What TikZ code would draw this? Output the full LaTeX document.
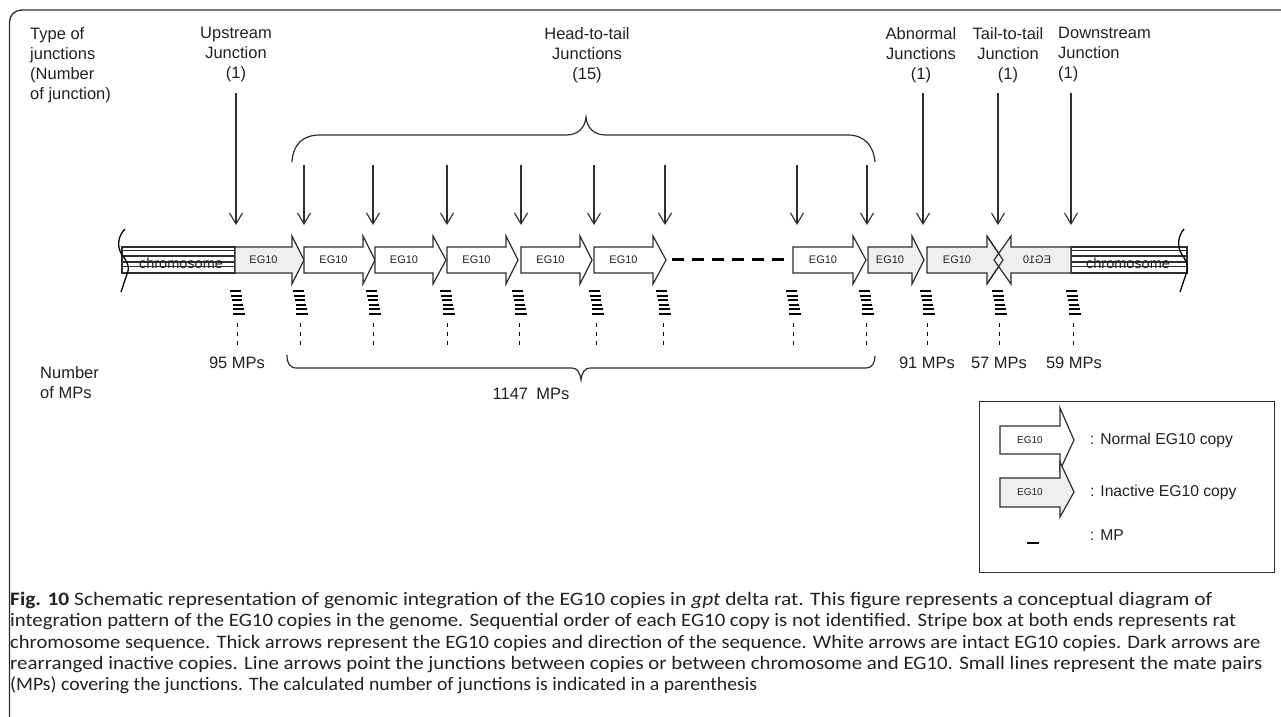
\documentclass[tikz,border=0pt]{standalone}
\usepackage{fontspec}
\usepackage{graphicx}
\setmainfont{Liberation Sans}
\newfontfamily\capfont{Carlito}
\usetikzlibrary{arrows.meta}
\definecolor{edge}{HTML}{2E2E2E}
\definecolor{txt}{HTML}{222222}
\definecolor{egfill}{HTML}{EEF0F0}

\newcommand\egcopy[5]{% name, x0, head base, tip, fill
  \draw[egline, fill=#5] (#2,247) -- (#3,247) -- (#3,236) -- (#4,260) -- (#3,284) -- (#3,273) -- (#2,273) -- cycle;
  \node[egtext] (#1) at ({(#2+#3)/2},260) {EG10};
}
\newcommand\chrom[4]{% name, x0, x1, text x
  \draw[chromline] (#2,247) rectangle (#3,273);
  \foreach \yy in {250.5,256,262,266.5} \draw[chromline] (#2,\yy) -- (#3,\yy);
  \node[chrtext] (#1) at (#4,263) {chromosome};
}
\newcommand\mpstack[2]{% name, x
  \coordinate (#1) at (#2,291);
  \foreach \yy/\a/\b in {291/-7/4, 295.5/-6/5, 300/-5/5, 304.5/-4/6, 309/-4/7, 313.5/-4/8}
    \draw[mpline] ({#2+\a},\yy) -- ({#2+\b},\yy);
  \draw[mpdots] (#2,323) -- (#2,345);
}
\newcommand\capline[3]{% baseline y, width, text
  \node[anchor=base west, inner sep=0pt, text=txt, font=\capfont\fontsize{19}{21}\selectfont] at (10,#1) {\resizebox{#2pt}{\height}{#3}};
}

\begin{document}
\begin{tikzpicture}[x=1pt,y=-1pt,
  lbl/.style={font=\fontsize{16.5}{20}\selectfont, text=txt, inner sep=0pt},
  egline/.style={draw=edge, line width=1.2pt, line join=miter},
  egtext/.style={font=\fontsize{11}{12}\selectfont, text=txt, inner sep=0pt},
  chromline/.style={draw=edge, line width=1.3pt},
  chrtext/.style={font=\fontsize{14.5}{16}\selectfont, text=txt, inner sep=0pt},
  jarrow/.style={draw=edge, line width=1.1pt, -{Straight Barb[length=11pt,width=13pt]}},
  mpline/.style={draw=black, line width=2pt},
  mpdots/.style={draw=black, line width=0.9pt, dash pattern=on 4pt off 5pt},
  brace/.style={draw=edge, line width=1.2pt},
  wavy/.style={draw=black, line width=1.3pt},
]
\useasboundingbox (0,0) rectangle (1281,716);
\clip (0,0) rectangle (1281,716);
\fill[white] (0,0) rectangle (1281,716);

% outer frame
\draw[line width=1.3pt, rounded corners=12pt, draw=edge] (9.5,760) -- (9.5,10) -- (1330,10);

% top labels
\node[lbl, anchor=north west, align=left] (types) at (30,27) {Type of\\junctions\\(Number\\of junction)};
\node[lbl, anchor=north, align=center] (up) at (236,27) {Upstream\\Junction\\(1)};
\node[lbl, anchor=north, align=center] (h2t) at (587,27) {Head-to-tail\\Junctions\\(15)};
\node[lbl, anchor=north, align=center] (abn) at (921,27) {Abnormal\\Junctions\\(1)};
\node[lbl, anchor=north, align=center] (t2t) at (1008,27) {Tail-to-tail\\Junction\\(1)};
\node[lbl, anchor=north west, align=left] (down) at (1058,27) {Downstream\\Junction\\(1)};

% top brace
\draw[brace] (292,162) .. controls (293,145) and (302,135) .. (320,135) -- (566,135)
  .. controls (578,135) and (585,128) .. (586,117)
  .. controls (587,128) and (594,135) .. (606,135) -- (848,135)
  .. controls (865,135) and (874,147) .. (875,162);

% chromosome boxes
\chrom{chrL}{122}{235}{181}
\chrom{chrR}{1071}{1187}{1128}
\draw[wavy] (125,229) .. controls (118,236) and (117,246) .. (121,253)
  .. controls (125,259) and (131,266) .. (127,274) .. controls (125,280) and (123,286) .. (121,292);
\draw[wavy] (1184,229) .. controls (1178,236) and (1177,246) .. (1181,253)
  .. controls (1185,259) and (1190,266) .. (1186,274) .. controls (1184,280) and (1182,286) .. (1180,292);

% EG10 copies
\egcopy{c1}{235}{292}{304}{egfill}
\egcopy{c2}{304}{363}{375}{white}
\egcopy{c3}{375}{433}{446}{white}
\egcopy{c4}{447}{506}{518}{white}
\egcopy{c5}{521}{580}{592}{white}
\egcopy{c6}{594}{653}{666}{white}
\egcopy{c7}{793}{853}{866}{white}
\egcopy{c8}{868}{912}{924}{egfill}
\egcopy{c9}{927}{987}{1003}{egfill}
\draw[egline, fill=egfill] (1071,247) -- (1011,247) -- (1011,236) -- (994,260) -- (1011,284) -- (1011,273) -- (1071,273) -- cycle;
\node[egtext] (c10) at (1037,260) {\scalebox{-1}[1]{EG10}};
\draw[egline] (987,236) -- (1003,260) -- (987,284);

% dashes
\coordinate (dA) at (672,259);
\coordinate (dB) at (784,259);
\draw[black, line width=3pt, dash pattern=on 12pt off 8pt] (dA) -- (dB);

% junction arrows
\foreach \n/\x/\y in {up/236/93, abn/923/93, t2t/998/93, down/1071/93,
  h1/304/165, h2/373/165, h3/447/165, h4/521/165, h5/594/165, h6/665/165, h7/797/165, h8/867/165} {
  \coordinate (s-\n) at (\x,\y);
  \coordinate (e-\n) at (\x,225);
  \draw[jarrow] (s-\n) -- (e-\n);
}

% MP stacks
\mpstack{m1}{237}
\mpstack{m2}{300}
\mpstack{m3}{373}
\mpstack{m4}{447}
\mpstack{m5}{519}
\mpstack{m6}{596}
\mpstack{m7}{663}
\mpstack{m8}{793}
\mpstack{m9}{866}
\mpstack{m10}{927}
\mpstack{m11}{999}
\mpstack{m12}{1073}

% MP labels
\node[lbl, anchor=north west, align=left] (nmp) at (40,366) {Number\\of MPs};
\node[lbl, anchor=base] (mp95) at (237,368) {95 MPs};
\node[lbl, anchor=base] (mp91) at (927,368) {91 MPs};
\node[lbl, anchor=base] (mp57) at (999,368) {57 MPs};
\node[lbl, anchor=base] (mp59) at (1074,368) {59 MPs};
\node[lbl, anchor=base] (mp1147) at (531,399) {1147\enspace MPs};

% bottom brace
\draw[brace] (287,355) .. controls (287,364) and (290,368) .. (297,368) -- (572,368)
  .. controls (577,368) and (580,372) .. (581,380)
  .. controls (582,372) and (585,368) .. (590,368) -- (866,368)
  .. controls (872,368) and (875,363) .. (875,356);

% legend
\draw[draw=edge, line width=1pt] (979,401) rectangle (1274,572);
\draw[egline, fill=white] (1000,426) -- (1060,426) -- (1060,408) -- (1074,440) -- (1060,470) -- (1060,454) -- (1000,454) -- cycle;
\node[egtext, font=\fontsize{10}{12}\selectfont] (lg1) at (1030,440) {EG10};
\draw[egline, fill=egfill] (1000,478) -- (1060,478) -- (1060,462) -- (1074,492) -- (1060,517) -- (1060,507) -- (1000,507) -- cycle;
\node[egtext, font=\fontsize{10}{12}\selectfont] (lg2) at (1030,492) {EG10};
\coordinate (lmA) at (1027,543);
\coordinate (lmB) at (1039,543);
\draw[mpline] (lmA) -- (lmB);
\node[lbl, anchor=west, font=\fontsize{15.7}{18}\selectfont] (lt1) at (1090,440) {: Normal EG10 copy};
\node[lbl, anchor=west, font=\fontsize{15.7}{18}\selectfont] (lt2) at (1090,492) {: Inactive EG10 copy};
\node[lbl, anchor=west, font=\fontsize{15.7}{18}\selectfont] (lt3) at (1090,535) {: MP};

% caption
\capline{605}{1202}{\textbf{Fig. 10} Schematic representation of genomic integration of the EG10 copies in \textit{gpt} delta rat. This figure represents a conceptual diagram of}
\capline{626}{1226}{integration pattern of the EG10 copies in the genome. Sequential order of each EG10 copy is not identified. Stripe box at both ends represents rat}
\capline{648}{1250}{chromosome sequence. Thick arrows represent the EG10 copies and direction of the sequence. White arrows are intact EG10 copies. Dark arrows are}
\capline{669}{1252}{rearranged inactive copies. Line arrows point the junctions between copies or between chromosome and EG10. Small lines represent the mate pairs}
\capline{690}{747}{(MPs) covering the junctions. The calculated number of junctions is indicated in a parenthesis}
\end{tikzpicture}
\end{document}
